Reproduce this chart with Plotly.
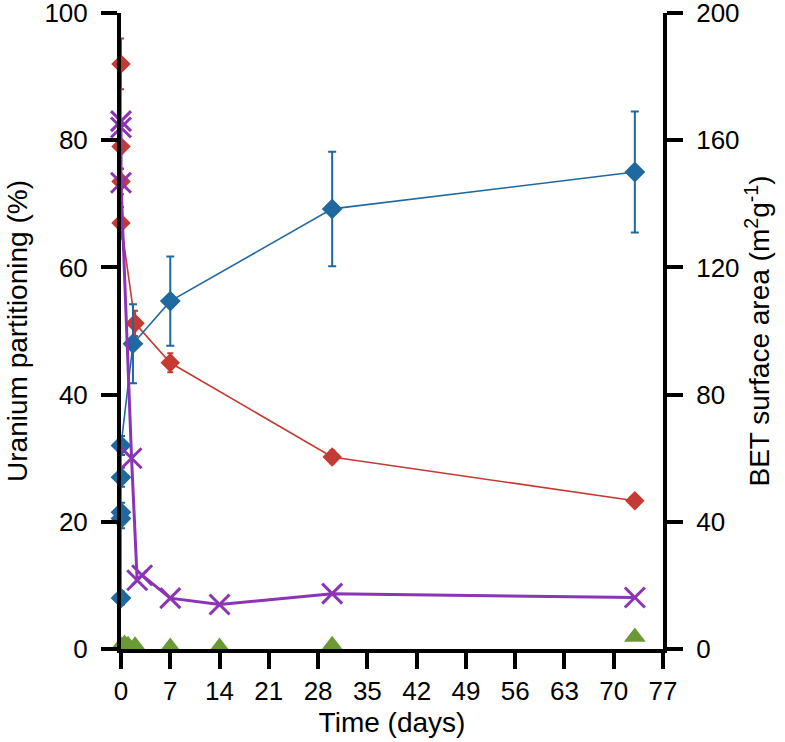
import plotly.graph_objects as go

# Uranium partitioning (%) - left axis
red_t = [0, 0, 0, 0, 2, 7, 30, 73]
red_v = [92, 79, 73.5, 67, 51.2, 45, 30.2, 23.3]
red_e = [4, 3.5, 2, 2.5, 2, 1.5, 1, 0.8]

blue_t = [0, 0, 0, 0, 0, 1.7, 7, 30, 73]
blue_v = [8, 20.5, 21.5, 27, 32, 48, 54.7, 69.2, 75]
blue_e = [1, 1.5, 1.5, 1.5, 1.5, 6.2, 7, 9, 9.5]

green_t = [0, 0.5, 1, 2, 7, 14, 30, 73]
green_v = [0.5, 0.8, 0.6, 0.5, 0.3, 0.3, 0.6, 1.9]

# BET surface area (m2/g) - right axis
bet_t = [0, 0, 0, 1.5, 2.3, 3, 7, 14, 30, 73]
bet_v = [166, 164, 146.6, 60, 21.6, 23.2, 16, 14, 17.4, 16.2]

x_ticks = [0, 7, 14, 21, 28, 35, 42, 49, 56, 63, 70, 77]
y_ticks = [0, 20, 40, 60, 80, 100]
y2_ticks = [0, 40, 80, 120, 160, 200]

RED = "#c53a32"
BLUE = "#1f68a0"
PURPLE = "#8b34b5"
GREEN = "#6b9a35"
FONT = "Arial, Liberation Sans, sans-serif"

fig = go.Figure()

fig.add_trace(go.Scatter(
    x=red_t, y=red_v, mode="lines+markers",
    line=dict(color=RED, width=1.6),
    marker=dict(symbol="diamond", size=15, color=RED),
    error_y=dict(type="data", array=red_e, color=RED, thickness=2, width=3),
    cliponaxis=False, showlegend=False))

fig.add_trace(go.Scatter(
    x=blue_t, y=blue_v, mode="lines+markers",
    line=dict(color=BLUE, width=1.6),
    marker=dict(symbol="diamond", size=16, color=BLUE),
    error_y=dict(type="data", array=blue_e, color=BLUE, thickness=2, width=4),
    cliponaxis=False, showlegend=False))

fig.add_trace(go.Scatter(
    x=green_t, y=green_v, mode="markers",
    marker=dict(symbol="triangle-up", size=19, color=GREEN),
    cliponaxis=False, showlegend=False))

fig.add_trace(go.Scatter(
    x=bet_t, y=bet_v, mode="lines+markers", yaxis="y2",
    line=dict(color=PURPLE, width=3),
    marker=dict(symbol="x-thin", size=20, color=PURPLE,
                line=dict(color=PURPLE, width=3)),
    cliponaxis=False, showlegend=False))

axis_common = dict(showline=True, linecolor="black", linewidth=4,
                   ticks="outside", ticklen=16, tickwidth=4, tickcolor="black",
                   showgrid=False, zeroline=False, automargin=False,
                   ticklabeloverflow="allow",
                   tickfont=dict(family=FONT, size=26, color="black"))

fig.update_layout(
    width=785, height=742,
    margin=dict(l=121, r=122, t=13, b=93),
    paper_bgcolor="white", plot_bgcolor="white",
    font=dict(family=FONT, color="black"),
    xaxis=dict(range=[0, 77], tickvals=x_ticks,
               title=dict(text="Time (days)", font=dict(family=FONT, size=28),
                          standoff=8),
               **axis_common),
    yaxis=dict(range=[0, 100], tickvals=y_ticks, ticklabelstandoff=8,
               title=dict(text="Uranium partitioning (%)",
                          font=dict(family=FONT, size=28), standoff=10),
               **axis_common),
    yaxis2=dict(range=[0, 200], tickvals=y2_ticks, overlaying="y", side="right",
                ticklabelstandoff=8,
                title=dict(text="BET surface area (m<sup>2</sup>g<sup>-1</sup>)",
                           font=dict(family=FONT, size=28), standoff=12),
                **axis_common),
)

fig.write_html("out.html",
               config={"displayModeBar": False},
               post_script="document.body.style.margin='0px';"
                           "document.body.style.overflow='hidden';")
